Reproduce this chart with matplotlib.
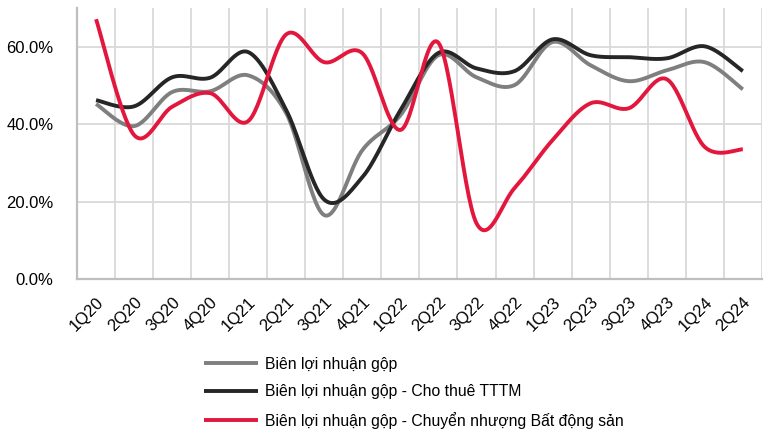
import numpy as np
import matplotlib
matplotlib.use("Agg")
import matplotlib.pyplot as plt
from matplotlib.ticker import FuncFormatter

plt.rcParams['font.family'] = ['Liberation Sans Narrow', 'Liberation Sans', 'DejaVu Sans']

# Dữ liệu (%)
quarters = ['1Q20', '2Q20', '3Q20', '4Q20', '1Q21', '2Q21', '3Q21', '4Q21', '1Q22',
            '2Q22', '3Q22', '4Q22', '1Q23', '2Q23', '3Q23', '4Q23', '1Q24', '2Q24']
gross_margin = [45.2, 39.5, 48.3, 48.5, 52.6, 42.8, 16.5, 33.3, 42.3,
                57.8, 52.1, 50.1, 61.2, 55.2, 51.1, 53.9, 56.0, 49.0]
leasing_margin = [46.2, 44.6, 52.1, 52.0, 58.6, 43.6, 20.5, 26.3, 43.6,
                  58.4, 54.4, 53.7, 61.9, 57.8, 57.3, 57.0, 60.1, 53.7]
property_margin = [67.1, 37.2, 44.5, 48.0, 40.8, 63.2, 56.0, 58.3, 38.5,
                   61.0, 14.4, 23.5, 35.9, 45.4, 44.1, 51.6, 34.1, 33.5]

labels = ['Biên lợi nhuận gộp',
          'Biên lợi nhuận gộp - Cho thuê TTTM',
          'Biên lợi nhuận gộp - Chuyển nhượng Bất động sản']
colors = ['#7f7f7f', '#262626', '#e3173e']


def smooth(y, n=30):
    """Đường cong Catmull-Rom giống kiểu 'smoothed line' của Excel"""
    y = np.asarray(y, dtype=float)
    x = np.arange(len(y), dtype=float)
    px = np.concatenate([[x[0]], x, [x[-1]]])
    py = np.concatenate([[y[0]], y, [y[-1]]])
    xs, ys = [], []
    for i in range(1, len(px) - 2):
        p0, p1, p2, p3 = (np.array([px[j], py[j]]) for j in range(i - 1, i + 3))
        c1 = p1 + (p2 - p0) / 6
        c2 = p2 - (p3 - p1) / 6
        t = np.linspace(0, 1, n)[:, None]
        b = (1 - t) ** 3 * p1 + 3 * (1 - t) ** 2 * t * c1 + 3 * (1 - t) * t ** 2 * c2 + t ** 3 * p2
        xs.append(b[:, 0])
        ys.append(b[:, 1])
    return np.concatenate(xs), np.concatenate(ys)


fig = plt.figure(figsize=(7.68, 4.34), dpi=100)
ax = fig.add_axes([0.1003, 0.357, 0.8917, 0.6246])

lines = []
for series, c, lab in zip([gross_margin, leasing_margin, property_margin], colors, labels):
    sx, sy = smooth(series)
    ln, = ax.plot(sx, sy, color=c, lw=2.8, label=lab, solid_capstyle='butt')
    lines.append(ln)

ax.set_xlim(-0.5, len(quarters) - 0.5)
ax.set_ylim(0, 70)
ax.set_yticks([0, 20, 40, 60])
ax.yaxis.set_major_formatter(FuncFormatter(lambda v, p: f'{v:.1f}%'))
ax.set_xticks(range(len(quarters)))
ax.set_xticklabels(quarters, rotation=45, ha='right', rotation_mode='anchor')
ax.set_xticks(np.arange(0.5, len(quarters), 1), minor=True)

ax.grid(True, axis='y', which='major', color='#d9d9d9', lw=1.3)
ax.grid(True, axis='x', which='minor', color='#d9d9d9', lw=1.3)
ax.set_axisbelow(True)
ax.tick_params(axis='both', which='both', length=0, labelsize=12, colors='#000000')
ax.tick_params(axis='x', pad=11)
ax.tick_params(axis='y', pad=17)

for s in ['top', 'right']:
    ax.spines[s].set_visible(False)
for s in ['left', 'bottom']:
    ax.spines[s].set_color('#bfbfbf')
    ax.spines[s].set_linewidth(1.6)

fig.legend(handles=lines, loc='upper left', bbox_to_anchor=(0.266, 0.178),
           frameon=False, fontsize=11.3, handlelength=3.4, handletextpad=0.45,
           labelspacing=0.8, borderaxespad=0, borderpad=0)

fig.savefig('out.png', dpi=100)
